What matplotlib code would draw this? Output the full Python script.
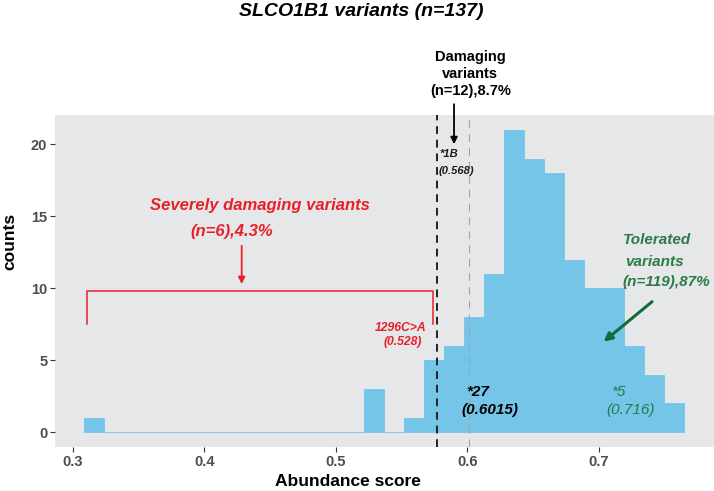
import numpy as np
import matplotlib
matplotlib.use('Agg')
import matplotlib.pyplot as plt

plt.rcParams['font.family'] = ['Liberation Sans', 'DejaVu Sans']

# histogram of abundance scores, 30 bins
bin_start = 0.3085
bin_width = 0.0152
counts = [1, 0, 0, 0, 0, 0, 0, 0, 0, 0, 0, 0, 0, 0, 3,
          0, 1, 5, 6, 8, 11, 21, 19, 18, 12, 10, 10, 6, 4, 2]

damaging_cut = 0.5767
star27_score = 0.6015
x_ticks = [0.3, 0.4, 0.5, 0.6, 0.7]
y_ticks = [0, 5, 10, 15, 20]

BAR = '#74C5E8'
RED = '#E8202A'
GREEN_TXT = '#2B7A48'
GREEN_ARR = '#17693A'

fig = plt.figure(figsize=(7.14, 4.91), dpi=100)
W, H = 714, 491
ax = fig.add_axes([55 / W, 1 - 447.3 / H, 659 / W, (447.3 - 115) / H])
ax.set_facecolor('#E6E7E8')

edges = bin_start + bin_width * np.arange(len(counts))
ax.bar(edges, counts, width=bin_width, align='edge', color=BAR,
       edgecolor=BAR, linewidth=0.6, zorder=2)

ax.axvline(damaging_cut, color='#222222', lw=1.4, ls=(0, (4, 3)), zorder=3)
ax.axvline(star27_score, color='#A3A3A3', lw=0.8, ls=(0, (7, 5.5)), zorder=3)

ax.set_xlim(0.2865, 0.7874)
ax.set_ylim(-1.05, 22.05)
ax.set_xticks(x_ticks)
ax.set_xticklabels([f'{t:.1f}' for t in x_ticks])
ax.set_yticks(y_ticks)
for s in ax.spines.values():
    s.set_visible(False)
ax.tick_params(length=3.5, width=0.8, color='#333333', labelcolor='#4D4D4D',
               labelsize=10.5, pad=2)
for lab in ax.get_xticklabels() + ax.get_yticklabels():
    lab.set_fontweight('bold')

# severely damaging bracket
ax.plot([0.3108, 0.3108, 0.574, 0.574], [7.5, 9.83, 9.83, 7.5],
        color=RED, lw=1.1, zorder=4)
ax.annotate('', xy=(0.4284, 10.3), xytext=(0.4284, 12.96),
            arrowprops=dict(arrowstyle='-|>', color=RED, lw=1.3,
                            mutation_scale=10, shrinkA=0, shrinkB=0))
ax.text(0.4425, 15.74, 'Severely damaging variants', color=RED, size=12,
        weight='bold', style='italic', ha='center', va='center')
ax.text(0.4211, 13.96, '(n=6),4.3%', color=RED, size=12,
        weight='bold', style='italic', ha='center', va='center')
ax.text(0.5494, 7.22, '1296C>A', color=RED, size=8.7, weight='bold',
        style='italic', ha='center', va='center')
ax.text(0.5507, 6.25, '(0.528)', color=RED, size=8.7, weight='bold',
        style='italic', ha='center', va='center')

# damaging
ax.text(0.6022, 24.9, 'Damaging\nvariants\n(n=12),8.7%', size=10.5,
        weight='bold', ha='center', va='center', linespacing=1.25)
ax.annotate('', xy=(0.5898, 20.02), xytext=(0.5898, 22.8),
            annotation_clip=False,
            arrowprops=dict(arrowstyle='-|>', color='black', lw=1.3,
                            mutation_scale=10, shrinkA=0, shrinkB=0))
ax.text(0.5862, 19.33, '*1B', size=8, weight='bold', style='italic',
        ha='center', va='center', color='#1A1A1A')
ax.text(0.5915, 18.17, '(0.568)', size=8, weight='bold', style='italic',
        ha='center', va='center', color='#1A1A1A')
ax.text(0.6078, 2.78, '*27', size=11, weight='bold', style='italic',
        ha='center', va='center')
ax.text(0.6169, 1.51, '(0.6015)', size=11, weight='bold', style='italic',
        ha='center', va='center')

# tolerated
ax.text(0.7443, 13.37, 'Tolerated', color=GREEN_TXT, size=11,
        weight='bold', style='italic', ha='center', va='center')
ax.text(0.7425, 11.85, 'variants', color=GREEN_TXT, size=11,
        weight='bold', style='italic', ha='center', va='center')
ax.text(0.7508, 10.42, '(n=119),87%', color=GREEN_TXT, size=11,
        weight='bold', style='italic', ha='center', va='center')
ax.annotate('', xy=(0.7035, 6.29), xytext=(0.7403, 9.07),
            arrowprops=dict(arrowstyle='-|>', color=GREEN_ARR, lw=2.2,
                            mutation_scale=12, shrinkA=0, shrinkB=0))
ax.text(0.7146, 2.78, '*5', color=GREEN_TXT, size=11, style='italic',
        ha='center', va='center')
ax.text(0.7237, 1.51, '(0.716)', color=GREEN_TXT, size=11, style='italic',
        ha='center', va='center')

fig.text(360.8 / W, 1 - 12 / H, 'SLCO1B1 variants (n=137)', size=14,
         weight='bold', style='italic', ha='center', va='center')
fig.text(348 / W, 1 - 481.7 / H, 'Abundance score', size=12.5,
         weight='bold', ha='center', va='center')
fig.text(10 / W, 1 - 241.7 / H, 'counts', size=12.5, weight='bold',
         rotation=90, ha='center', va='center')

fig.savefig('out.png', dpi=100)
